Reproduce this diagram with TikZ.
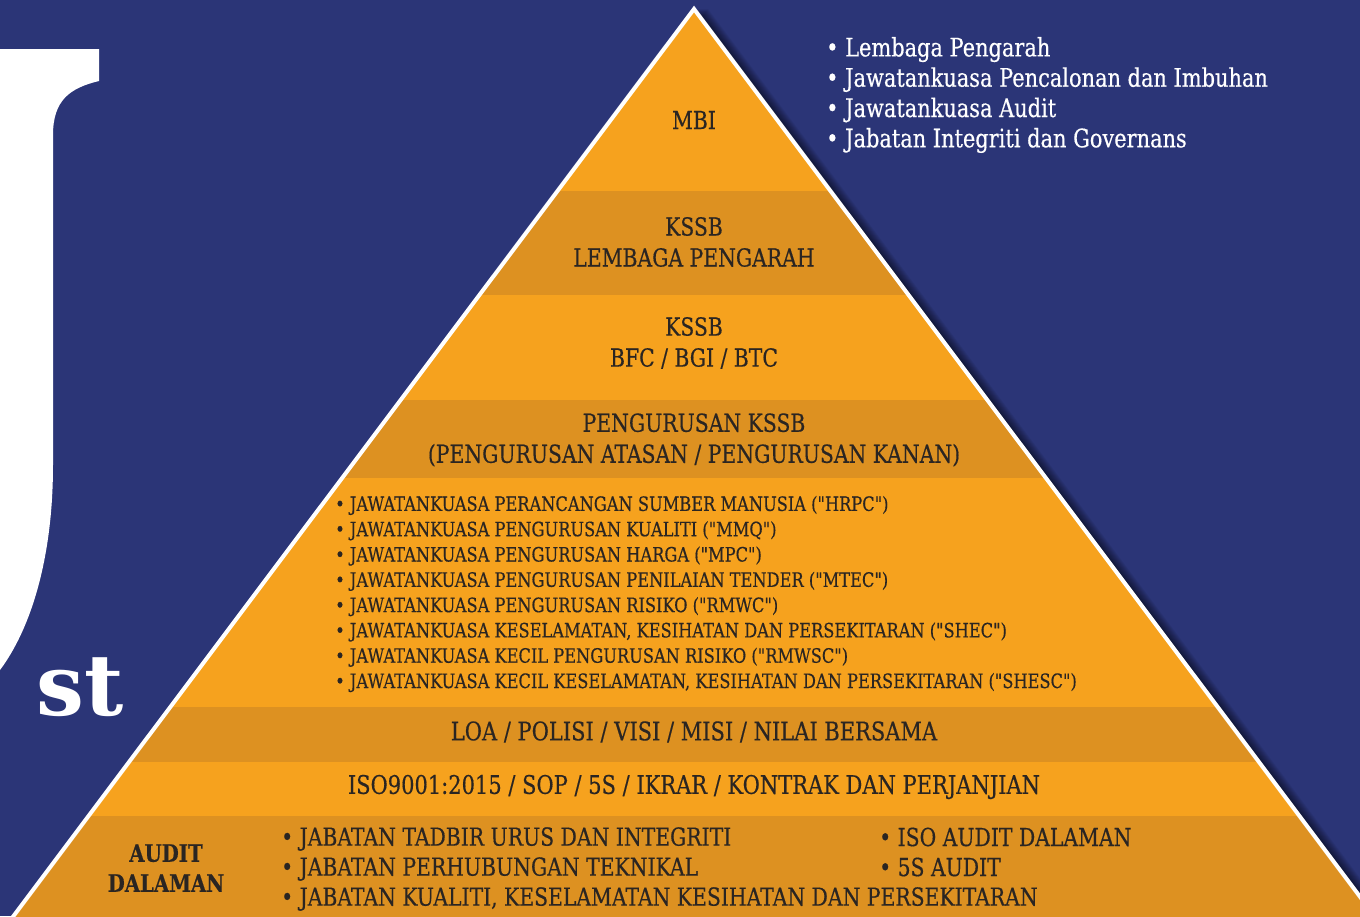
\documentclass[tikz,border=0pt]{standalone}
\usepackage{fontspec}
\newfontfamily\bandfont[FakeStretch=0.82,FakeBold=0.4]{DejaVu Serif}
\newfontfamily\logofont{DejaVu Serif}
\definecolor{navy}{HTML}{2B3577}
\definecolor{lightband}{HTML}{F6A21E}
\definecolor{darkband}{HTML}{DD9121}
\definecolor{ink}{HTML}{2A2522}
\tikzset{
  band/.style={font=\bandfont\fontsize{24.8}{31}\selectfont, text=ink, align=center},
  lst/.style={font=\bandfont\fontsize{19.8}{25.3}\selectfont, text=ink, align=left, anchor=west, inner sep=0pt},
  audlst/.style={font=\bandfont\fontsize{24.8}{30}\selectfont, text=ink, align=left, anchor=west, inner sep=0pt}
}
\begin{document}
\begin{tikzpicture}[x=1pt,y=-1pt]
  \useasboundingbox (0,0) rectangle (1360,916);
  \clip (0,0) rectangle (1360,916);
  \fill[navy] (0,0) rectangle (1360,916);
  \fill[white] (0,49) -- (99,49) -- (99,81) .. controls (70,88) and (53,100) .. (53,135)
    -- (53,465) .. controls (53,560) and (30,630) .. (0,670) -- cycle;
  \node[text=white, font=\logofont\bfseries\fontsize{85}{85}\selectfont, anchor=base west, inner sep=0pt] (st) at (36,715) {st};
  \foreach \k in {1,...,14}
    \fill[black, opacity=0.05, xshift=\k pt] (694,9) -- (1385,930) -- (3,930) -- cycle;
  \begin{scope}
    \clip (694,9) -- (1385,930) -- (3,930) -- cycle;
    \fill[lightband] (0,0) rectangle (1360,191);
    \fill[darkband] (0,191) rectangle (1360,295);
    \fill[lightband] (0,295) rectangle (1360,400);
    \fill[darkband] (0,400) rectangle (1360,478);
    \fill[lightband] (0,478) rectangle (1360,707);
    \fill[darkband] (0,707) rectangle (1360,762);
    \fill[lightband] (0,762) rectangle (1360,816);
    \fill[darkband] (0,816) rectangle (1360,930);
  \end{scope}
  \draw[white, line width=4pt] (3,930) -- (694,9) -- (1385,930);
  \node[band] (mbi) at (694,120) {MBI};
  \node[band] (lembaga) at (694,242) {KSSB\\LEMBAGA PENGARAH};
  \node[band] (bfc) at (694,343) {KSSB\\BFC / BGI / BTC};
  \node[band] (urus) at (694,440) {PENGURUSAN KSSB\\(PENGURUSAN ATASAN / PENGURUSAN KANAN)};
  \node[lst] (komite) at (335,594) {%
    • JAWATANKUASA PERANCANGAN SUMBER MANUSIA ("HRPC")\\
    • JAWATANKUASA PENGURUSAN KUALITI ("MMQ")\\
    • JAWATANKUASA PENGURUSAN HARGA ("MPC")\\
    • JAWATANKUASA PENGURUSAN PENILAIAN TENDER ("MTEC")\\
    • JAWATANKUASA PENGURUSAN RISIKO ("RMWC")\\
    • JAWATANKUASA KESELAMATAN, KESIHATAN DAN PERSEKITARAN ("SHEC")\\
    • JAWATANKUASA KECIL PENGURUSAN RISIKO ("RMWSC")\\
    • JAWATANKUASA KECIL KESELAMATAN, KESIHATAN DAN PERSEKITARAN ("SHESC")};
  \node[band, font=\bandfont\fontsize{25.6}{31}\selectfont] (loa) at (694,732) {LOA / POLISI / VISI / MISI / NILAI BERSAMA};
  \node[band, font=\bandfont\fontsize{25.6}{31}\selectfont] (iso) at (694,787) {ISO9001:2015 / SOP / 5S / IKRAR / KONTRAK DAN PERJANJIAN};
  \node[band, font=\bandfont\bfseries\fontsize{24}{30}\selectfont] (audit) at (166,868) {AUDIT\\DALAMAN};
  \node[audlst] (jabatan) at (281,869) {%
    • JABATAN TADBIR URUS DAN INTEGRITI\\
    • JABATAN PERHUBUNGAN TEKNIKAL\\
    • JABATAN KUALITI, KESELAMATAN KESIHATAN DAN PERSEKITARAN};
  \node[audlst] (isoaudit) at (879,852) {%
    • ISO AUDIT DALAMAN\\
    • 5S AUDIT};
  \node[font=\bandfont\fontsize{25.5}{30.3}\selectfont, text=white, align=left, anchor=west, inner sep=0pt] (lembagalst) at (826,95) {%
    • Lembaga Pengarah\\
    • Jawatankuasa Pencalonan dan Imbuhan\\
    • Jawatankuasa Audit\\
    • Jabatan Integriti dan Governans};
\end{tikzpicture}
\end{document}
